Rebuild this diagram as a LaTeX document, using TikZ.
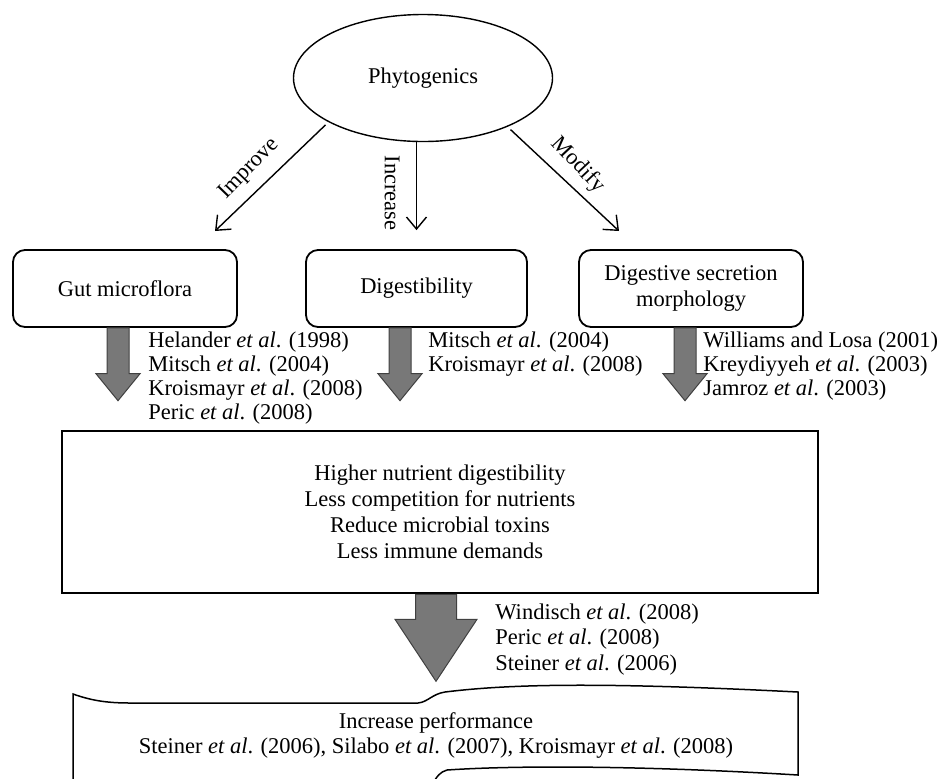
\documentclass[tikz,border=0pt]{standalone}
\usepackage{fontspec}
\setmainfont{Liberation Serif}
\usetikzlibrary{shapes.geometric,arrows.meta,calc}
\definecolor{arrowgray}{RGB}{120,120,120}
\tikzset{
  roundbox/.style={draw, rounded corners=6pt, line width=0.9pt, minimum width=112pt,
    minimum height=38.5pt, align=center, font=\fontsize{11.25}{13}\selectfont},
  thinarrow/.style={line width=0.7pt, -{Straight Barb[length=6pt,width=10pt]}},
  fatarrow/.style={fill=arrowgray, draw=black!75, line width=0.5pt},
  refs/.style={anchor=north west, inner sep=0pt, align=left, font=\fontsize{11.25}{12}\selectfont},
}
\newcommand{\etal}{\textit{et al}.}

\begin{document}
\begin{tikzpicture}[x=0.5pt,y=-0.5pt,font=\fontsize{11.25}{13}\selectfont]
\useasboundingbox (0,0) rectangle (947,778);
% top: phytogenics and its three effects
\node[ellipse, draw, line width=0.7pt, minimum width=129.5pt, minimum height=63.5pt] (phyto) at (423,78) {Phytogenics};
\node[roundbox] (gut) at (125,288.5) {Gut microflora};
\node[roundbox, minimum width=110.5pt] (digest) at (416.5,288.5) {Digestibility};
\node[roundbox] (secret) at (691,288.5) {Digestive secretion\\morphology};
\coordinate (improveEnd) at (215,231);
\coordinate (modifyEnd) at (619,231);
\draw[thinarrow, shorten <=2pt] (phyto.205) -- (improveEnd);
\draw[thinarrow, shorten >=9.5pt] (phyto.south -| digest.north) -- (digest.north);
\draw[thinarrow, shorten <=2pt] (phyto.330) -- (modifyEnd);
\node[rotate=46] (improveLbl) at (249,169) {Improve};
\node[rotate=-90] (increaseLbl) at (392,193) {Increase};
\node[rotate=-47] (modifyLbl) at (578,165) {Modify};
% references under the boxes
\node[refs] (gutRefs) at (148,331) {Helander \etal{} (1998)\\Mitsch \etal{} (2004)\\Kroismayr \etal{} (2008)\\Peric \etal{} (2008)};
\node[refs] (digestRefs) at (428,331) {Mitsch \etal{} (2004)\\Kroismayr \etal{} (2008)};
\node[refs] (secretRefs) at (703,331) {Williams and Losa (2001)\\Kreydiyyeh \etal{} (2003)\\Jamroz \etal{} (2003)};
% middle box
\node[draw, line width=1.3pt, minimum width=378pt, minimum height=81pt, align=center] (effects) at (440,512) {Higher nutrient digestibility\\Less competition for nutrients\\Reduce microbial toxins\\Less immune demands};
\foreach \src/\dx in {gut/-7,digest/-16.5,secret/-6} {
  \path ($(\src.south)+(\dx,0)$) coordinate (arrTop) ($(arrTop |- effects.north)+(0,-29)$) coordinate (arrTip);
  \draw[fatarrow] ($(arrTop)+(-11,0)$) -- ($(arrTop)+(11,0)$) -- ($(arrTip)+(11,-27)$) -- ($(arrTip)+(22,-27)$)
    -- (arrTip) -- ($(arrTip)+(-22,-27)$) -- ($(arrTip)+(-11,-27)$) -- cycle;
}
% big arrow and result
\path ($(effects.south)+(-4,0)$) coordinate (bigTop) ++(0,87) coordinate (bigTip);
\draw[fatarrow] ($(bigTop)+(-20.5,0)$) -- ($(bigTop)+(20.5,0)$) -- ($(bigTip)+(20.5,-62)$) -- ($(bigTip)+(41,-62)$)
  -- (bigTip) -- ($(bigTip)+(-41,-62)$) -- ($(bigTip)+(-20.5,-62)$) -- cycle;
\node[refs, font=\fontsize{11.25}{12.75}\selectfont] (perfRefs) at (495,603) {Windisch \etal{} (2008)\\Peric \etal{} (2008)\\Steiner \etal{} (2006)};
\draw[line width=0.75pt] (73,694) .. controls (90,700) and (105,703) .. (130,703) -- (418,703)
  .. controls (428,702) and (432,694) .. (445,692) .. controls (510,684) and (600,682) .. (798,692)
  -- (798,775) .. controls (650,766) and (520,765) .. (447,770) .. controls (440,772) and (437,776) .. (432,785)
  -- (73,790) -- cycle;
\node[align=center, font=\fontsize{11.25}{12.5}\selectfont] (perf) at (436,735) {Increase performance\\Steiner \etal{} (2006), Silabo \etal{} (2007), Kroismayr \etal{} (2008)};
\end{tikzpicture}
\end{document}
